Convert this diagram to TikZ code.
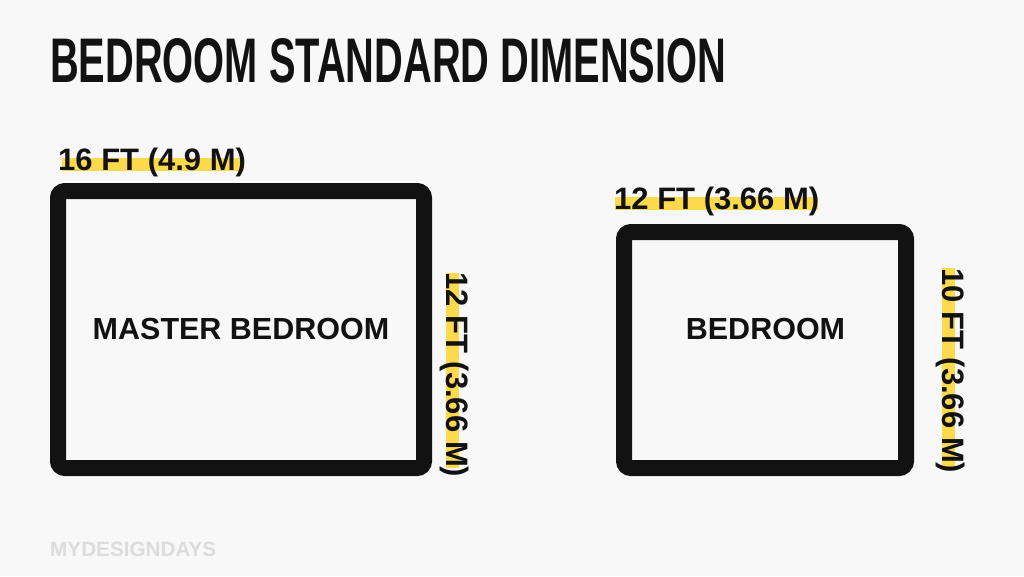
\documentclass[tikz,border=0pt]{standalone}
\usepackage{fontspec}
\setmainfont{Liberation Sans}
\usepackage{graphicx}
\usetikzlibrary{positioning}

\definecolor{bgcol}{HTML}{F8F8F8}
\definecolor{ink}{HTML}{121212}
\definecolor{hlyellow}{HTML}{FDD94C}
\definecolor{markgray}{HTML}{DCDCDC}

\begin{document}
\begin{tikzpicture}[x=1pt, y=-1pt,
    roombox/.style={draw=ink, line width=16pt, rounded corners=7pt},
    dimlabel/.style={inner sep=0pt, text=ink, font=\fontsize{31}{31}\selectfont\bfseries},
    roomlabel/.style={inner sep=0pt, anchor=base, text=ink, font=\fontsize{30.5}{30.5}\selectfont\bfseries},
    hl/.style={fill=hlyellow}]
            % Background
            \fill[bgcol] (0,0) rectangle (1024,576);
            \useasboundingbox (0,0) rectangle (1024,576);

            % Title
            \node[inner sep=0pt, anchor=base west, text=ink] (title) at (50,82)
                {\resizebox{676pt}{44pt}{\bfseries BEDROOM STANDARD DIMENSION}};

            % rooms
            \draw[roombox] (58,191) rectangle (424,468);
            \draw[roombox] (624,232) rectangle (906,468);

            % highlights
            \fill[hl] (62,158) rectangle (244,171);
            \fill[hl] (615,197) rectangle (818,210);
            \fill[hl] (446,273) rectangle (459,468);
            \fill[hl] (942,268) rectangle (955,470);

            % dimensions
            \node[dimlabel, anchor=base west] (masterw) at (58,170) {16 FT (4.9 M)};
            \node[dimlabel, anchor=base west] (bedw) at (614,209) {12 FT (3.66 M)};
            \node[dimlabel, anchor=base west, rotate=-90] (masterh) at (446,272) {12 FT (3.66 M)};
            \node[dimlabel, anchor=base west, rotate=-90] (bedh) at (942,268) {10 FT (3.66 M)};

            % room names
            \node[roomlabel] (master) at (241,339) {MASTER BEDROOM};
            \node[roomlabel] (bed) at (765.5,339) {BEDROOM};

            % watermark
            \node[inner sep=0pt, anchor=base west, text=markgray,
                font=\fontsize{20.7}{20.7}\selectfont\bfseries] (mark) at (50,556) {MYDESIGNDAYS};
        \end{tikzpicture}
\end{document}
